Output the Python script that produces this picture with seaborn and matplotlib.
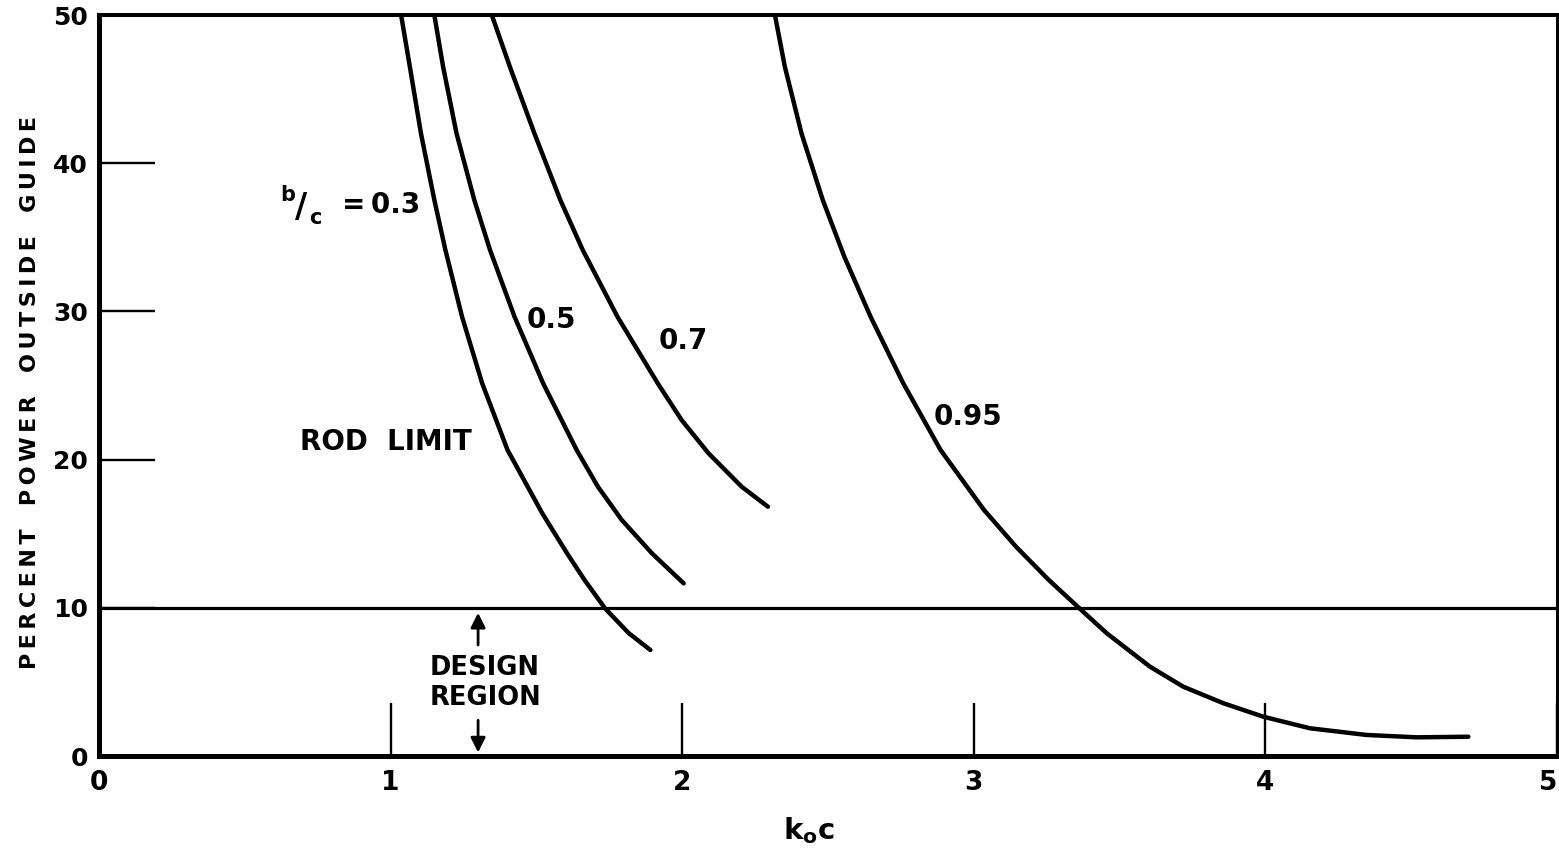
import numpy as np
import pandas as pd
import matplotlib
matplotlib.use("Agg")
import matplotlib.pyplot as plt
import seaborn as sns

# ---- data ----
x_03 = [1.036, 1.066, 1.104, 1.150, 1.188, 1.245, 1.314, 1.401, 1.520, 1.605, 1.665, 1.735, 1.816, 1.891]
y_03 = [50.0, 46.51, 42.02, 37.52, 34.14, 29.64, 25.15, 20.65, 16.38, 13.68, 11.88, 9.97, 8.30, 7.15]

x_05 = [1.150, 1.180, 1.226, 1.287, 1.341, 1.425, 1.523, 1.638, 1.711, 1.793, 1.896, 2.005]
y_05 = [50.0, 46.51, 42.02, 37.52, 34.14, 29.64, 25.15, 20.65, 18.17, 15.92, 13.68, 11.65]

x_07 = [1.347, 1.409, 1.493, 1.582, 1.659, 1.778, 1.916, 1.998, 2.090, 2.204, 2.294]
y_07 = [50.0, 46.51, 42.02, 37.52, 34.14, 29.64, 25.15, 22.67, 20.43, 18.17, 16.82]

x_095 = [2.318, 2.352, 2.409, 2.482, 2.556, 2.646, 2.758, 2.886, 3.035, 3.145, 3.257,
         3.362, 3.456, 3.604, 3.718, 3.856, 3.993, 4.153, 4.347, 4.519, 4.696]
y_095 = [50.0, 46.51, 42.02, 37.52, 33.69, 29.64, 25.15, 20.65, 16.60, 14.12, 11.88,
         9.97, 8.28, 6.03, 4.68, 3.56, 2.65, 1.87, 1.42, 1.26, 1.30]

curve_names = ["0.3", "0.5", "0.7", "0.95"]
x_ticks = [0, 1, 2, 3, 4, 5]
y_ticks = [0, 10, 20, 30, 40, 50]
design_limit = 10

frames = []
for name, xs, ys in zip(curve_names, [x_03, x_05, x_07, x_095], [y_03, y_05, y_07, y_095]):
    frames.append(pd.DataFrame({"koc": xs, "pct": ys, "curve": name}))
df = pd.concat(frames, ignore_index=True)

sns.set_theme(style="white")
plt.rcParams["font.family"] = ["DejaVu Sans"]
plt.rcParams["text.color"] = "black"
plt.rcParams["xtick.color"] = "black"
plt.rcParams["ytick.color"] = "black"

fig = plt.figure(figsize=(15.59, 8.52), dpi=100)
ax = fig.add_axes([99 / 1559, 1 - 756 / 852, (1557 - 99) / 1559, (756 - 15) / 852])

sns.lineplot(data=df, x="koc", y="pct", hue="curve", palette=["black"] * 4,
             estimator=None, sort=False, legend=False, lw=3.2, ax=ax,
             solid_capstyle="round", solid_joinstyle="round")

ax.axhline(design_limit, color="black", lw=2.3)

ax.set_xlim(0, 5)
ax.set_ylim(0, 50)
ax.set_xticks(x_ticks)
ax.set_yticks(y_ticks)
ax.set_xticklabels([str(v) for v in x_ticks], fontsize=19, fontweight="bold", color="black")
ax.set_yticklabels([str(v) for v in y_ticks], fontsize=18, fontweight="bold", color="black")
ax.get_xticklabels()[-1].set_horizontalalignment("right")
ax.tick_params(axis="x", bottom=True, direction="in", length=38, width=1.7, pad=10, color="black")
ax.tick_params(axis="y", left=True, direction="in", length=40, width=1.7, pad=8, color="black")
ax.set_xlabel("")
ax.set_ylabel("")

for side, w in [("left", 3.6), ("bottom", 3.6), ("top", 2.9), ("right", 2.2)]:
    ax.spines[side].set_visible(True)
    ax.spines[side].set_linewidth(w)
    ax.spines[side].set_color("black")

def spaced(s, gap="   "):
    return gap.join("\u2009".join(w) for w in s.split())

ax.text(-0.047, 0.491, spaced("PERCENT POWER OUTSIDE GUIDE"), transform=ax.transAxes,
        rotation=90, ha="center", va="center", fontsize=16, fontweight="bold")
ax.text(0.487, -0.10, r"k$_\mathbf{o}$c", transform=ax.transAxes,
        ha="center", va="center", fontsize=21, fontweight="bold")

lab = dict(fontsize=20, fontweight="bold", color="black")
ax.text(0.648, 37.85, "b", ha="center", va="center", fontsize=15, fontweight="bold")
ax.text(0.692, 37.0, "/", ha="center", va="center", fontsize=24, fontweight="bold")
ax.text(0.741, 36.3, "c", ha="center", va="center", fontsize=15, fontweight="bold")
ax.text(0.834, 37.2, "=\u20090.3", ha="left", va="center", **lab)
ax.text(1.468, 29.4, "0.5", ha="left", va="center", **lab)
ax.text(1.918, 28.0, "0.7", ha="left", va="center", **lab)
ax.text(2.861, 22.9, "0.95", ha="left", va="center", **lab)
ax.text(0.69, 21.2, "ROD  LIMIT", ha="left", va="center", **lab)
ax.text(1.324, 4.9, "DESIGN\nREGION", ha="center", va="center", linespacing=1.2,
        fontsize=18.5, fontweight="bold")

ax.annotate("", xy=(1.30, 9.85), xytext=(1.30, 7.3),
            arrowprops=dict(arrowstyle="-|>", color="black", lw=2, mutation_scale=22))
ax.annotate("", xy=(1.30, 0.05), xytext=(1.30, 2.6),
            arrowprops=dict(arrowstyle="-|>", color="black", lw=2, mutation_scale=22))

fig.savefig("out.png", dpi=100, facecolor="white")
